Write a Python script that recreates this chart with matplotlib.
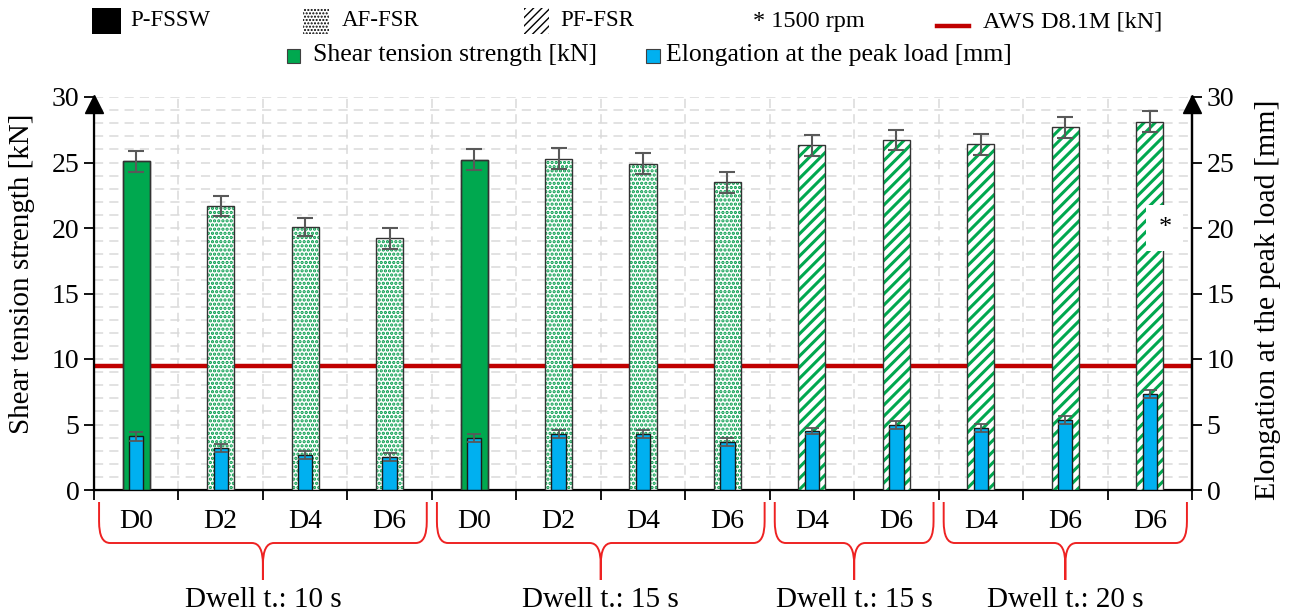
import matplotlib
matplotlib.use('Agg')
import matplotlib.pyplot as plt
from matplotlib.patches import Rectangle, PathPatch
from matplotlib.path import Path
from matplotlib.lines import Line2D
from matplotlib.transforms import blended_transform_factory
import numpy as np

plt.rcParams['font.family'] = ['Liberation Serif', 'DejaVu Serif']

labels = ['D0', 'D2', 'D4', 'D6', 'D0', 'D2', 'D4', 'D6', 'D4', 'D6', 'D4', 'D6', 'D6']
process = ['P-FSSW', 'AF-FSR', 'AF-FSR', 'AF-FSR', 'P-FSSW', 'AF-FSR', 'AF-FSR', 'AF-FSR',
           'PF-FSR', 'PF-FSR', 'PF-FSR', 'PF-FSR', 'PF-FSR']
shear = [25.1, 21.7, 20.1, 19.2, 25.2, 25.3, 24.9, 23.5, 26.3, 26.7, 26.4, 27.7, 28.1]
shear_err = [0.8, 0.75, 0.7, 0.8, 0.8, 0.8, 0.8, 0.8, 0.8, 0.75, 0.8, 0.8, 0.8]
elong = [4.1, 3.2, 2.7, 2.55, 4.0, 4.3, 4.3, 3.65, 4.5, 4.95, 4.75, 5.35, 7.3]
elong_err = [0.35, 0.3, 0.3, 0.3, 0.3, 0.3, 0.3, 0.3, 0.25, 0.3, 0.3, 0.3, 0.3]
groups = ['Dwell t.: 10 s', 'Dwell t.: 15 s', 'Dwell t.: 15 s', 'Dwell t.: 20 s']
group_slots = [(0, 3), (4, 7), (8, 9), (10, 12)]
aws_limit = 9.45
star_slot = 12
star_text = '*'

W, H = 1293, 614
fig = plt.figure(figsize=(W / 100, H / 100), dpi=100)


def fx(px):
    return px / W


def fy(py):
    return 1 - py / H


ax = fig.add_axes([fx(94), fy(490), fx(1192) - fx(94), fy(97) - fy(490)])
x = np.arange(len(labels))

green = '#00A84F'
blue = '#00B0F0'

ax.axhline(aws_limit, color='#C00000', lw=3.2, zorder=2)

bw = 0.32
solid = [i for i, p in enumerate(process) if p == 'P-FSSW']
dotted = [i for i, p in enumerate(process) if p == 'AF-FSR']
striped = [i for i, p in enumerate(process) if p == 'PF-FSR']

ax.bar(x[solid], [shear[i] for i in solid], bw, color=green, edgecolor='#333333', lw=1, zorder=3)
plt.rcParams['hatch.linewidth'] = 1.6
ax.bar(x[dotted], [shear[i] for i in dotted], bw, color='white', edgecolor='#009A48',
       hatch='....', lw=0, zorder=3)
plt.rcParams['hatch.linewidth'] = 2.2
ax.bar(x[striped], [shear[i] for i in striped], bw, color='white', edgecolor=green,
       hatch='///', lw=0, zorder=3)
ax.bar(x, shear, bw, fill=False, edgecolor='#333333', lw=1, zorder=3.5)
ax.errorbar(x, shear, yerr=shear_err, fmt='none', ecolor='#595959', elinewidth=1.5,
            capsize=6, capthick=1.5, zorder=5)

ax.bar(x, elong, 0.17, color=blue, edgecolor='#1a1a1a', lw=1, zorder=4)
ax.errorbar(x, elong, yerr=elong_err, fmt='none', ecolor='#595959', elinewidth=1.3,
            capsize=5, capthick=1.3, zorder=5)

ax.text(star_slot + 0.18, 20.0, star_text, fontsize=19, ha='center', va='center', zorder=6,
        bbox=dict(facecolor='white', edgecolor='none', boxstyle='square,pad=0.45'))

ax.set_xlim(-0.5, len(labels) - 0.5)
ax.set_ylim(0, 30)
ax.set_xticks(np.arange(-0.5, len(labels), 1.0))
ax.set_xticklabels([])
ax.set_yticks(np.arange(0, 31, 5))
ax.set_yticks(np.arange(0, 31, 1), minor=True)
ax.tick_params(axis='y', which='minor', length=0)
ax.tick_params(axis='both', which='major', direction='out', length=7, width=1.3, labelsize=20)
ax.grid(True, which='both', color='#DADADA', lw=1.1, ls=(0, (6, 4)), zorder=0)
ax.set_axisbelow(True)
ax.spines['top'].set_visible(False)
for s in ['left', 'right', 'bottom']:
    ax.spines[s].set_linewidth(1.6)

ax2 = ax.twinx()
ax2.set_ylim(0, 30)
ax2.set_yticks(np.arange(0, 31, 5))
ax2.tick_params(axis='y', direction='out', length=7, width=1.3, labelsize=20)
ax2.spines['top'].set_visible(False)
ax2.spines['right'].set_linewidth(1.6)

for xa in [0, 1]:
    ax.plot([xa], [0.982], marker='^', color='black', markersize=13, transform=ax.transAxes,
            clip_on=False, zorder=10)

fig.text(fx(22), fy(274), 'Shear tension strength [kN]', rotation=90, ha='center',
         va='center', fontsize=21)
fig.text(fx(1268), fy(300), 'Elongation at the peak load [mm]', rotation=90, ha='center',
         va='center', fontsize=21.5)

# category labels and braces
tr = blended_transform_factory(ax.transData, fig.transFigure)
for i, lab in enumerate(labels):
    ax.text(i, fy(522), lab, transform=tr, ha='center', va='center', fontsize=20)

y0, y1, y2 = fy(502), fy(543), fy(580)
rx, ry = 0.13, 0.035
for (a, b), g in zip(group_slots, groups):
    x0, x1 = a - 0.44, b + 0.44
    xc = (a + b) / 2
    verts = [(x0, y0), (x0, y1 + ry), (x0, y1), (x0 + rx, y1), (xc - rx, y1), (xc, y1),
             (xc, y1 - ry), (xc, y2), (xc, y1 - ry), (xc, y1), (xc + rx, y1), (x1 - rx, y1),
             (x1, y1), (x1, y1 + ry), (x1, y0)]
    codes = [Path.MOVETO, Path.LINETO, Path.CURVE3, Path.CURVE3, Path.LINETO, Path.CURVE3,
             Path.CURVE3, Path.LINETO, Path.LINETO, Path.CURVE3, Path.CURVE3, Path.LINETO,
             Path.CURVE3, Path.CURVE3, Path.LINETO]
    ax.add_patch(PathPatch(Path(verts, codes), fill=False, edgecolor='#EE2222', lw=1.4,
                           transform=tr, clip_on=False))
    ax.text(xc, fy(600), g, transform=tr, ha='center', va='center', fontsize=21)

# legend, drawn by hand
def leg_box(x0, x1, ytop, ybot, **kw):
    fig.add_artist(Rectangle((fx(x0), fy(ybot)), fx(x1) - fx(x0), fy(ytop) - fy(ybot),
                             transform=fig.transFigure, **kw))


plt.rcParams['hatch.linewidth'] = 1.0
leg_box(92, 121, 8, 34, facecolor='black', edgecolor='black', lw=0)
leg_box(303, 329, 8, 34, facecolor='white', edgecolor='black', hatch='.....', lw=0)
leg_box(524, 549, 8, 34, facecolor='white', edgecolor='black', hatch='////', lw=0)
fig.text(fx(130), fy(21), 'P-FSSW', fontsize=16.5, va='center')
fig.text(fx(342), fy(21), 'AF-FSR', fontsize=16.5, va='center')
fig.text(fx(560), fy(21), 'PF-FSR', fontsize=16.5, va='center')
fig.text(fx(753), fy(22), '* 1500 rpm', fontsize=17.5, va='center')
fig.add_artist(Line2D([fx(937), fx(969)], [fy(26), fy(26)], color='#C00000', lw=3.2,
                      transform=fig.transFigure))
fig.text(fx(983), fy(22), 'AWS D8.1M [kN]', fontsize=17.5, va='center')

leg_box(287, 300, 49, 63, facecolor=green, edgecolor='#404040', lw=0.8)
fig.text(fx(313), fy(55), 'Shear tension strength [kN]', fontsize=18.5, va='center')
leg_box(646, 660, 49, 63, facecolor=blue, edgecolor='#404040', lw=0.8)
fig.text(fx(666), fy(55), 'Elongation at the peak load [mm]', fontsize=18.5, va='center')

fig.savefig('out.png', dpi=100)
